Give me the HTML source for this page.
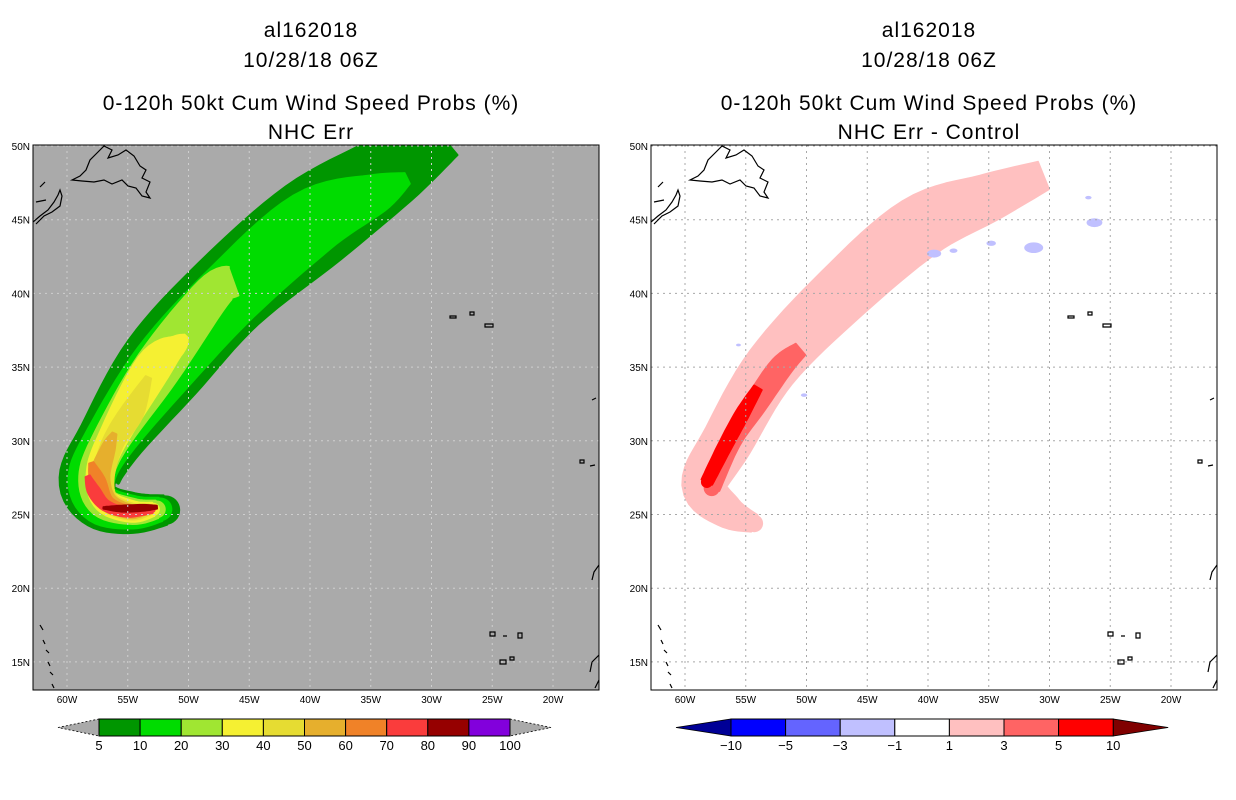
<!DOCTYPE html>
<html><head><meta charset="utf-8"><style>
html,body{margin:0;padding:0;background:#fff;}
svg{display:block;font-family:"Liberation Sans",sans-serif;}
</style></head><body>
<svg id="c" width="1236" height="800" viewBox="0 0 1236 800"></svg>
<script>
// ---------- data ----------
const latTicks = [50,45,40,35,30,25,20,15];
const lonTicks = [60,55,50,45,40,35,30,25,20];
const leftLevels = [5,10,20,30,40,50,60,70,80,90,100];
const leftColors = ["#009600","#00dc00","#a0e632","#f5f032","#e6dc32","#e6af2d","#f08228","#fa3c3c","#960000","#8200dc"];
const rightLevels = [-10,-5,-3,-1,1,3,5,10];
const rightColors = ["#0000ff","#6464ff","#c0c0ff","#ffffff","#ffc0c0","#ff6464","#ff0000"];
// probability swath contours: [lon, lat, halfwidth-deg]
const band5  = [[-51.9,25.3,1.0],[-54.5,25.1,1.35],[-57.2,25.6,1.6],[-58.2,27.3,2.0],[-56.6,29.9,2.15],[-52.2,35,2.9],[-46.7,40,2.9],[-39.7,44.8,3.1],[-33.5,48.3,2.5],[-29.5,51,2.1]];
const band10 = [[-52.3,25.35,0.8],[-54.5,25.15,1.1],[-57.2,25.7,1.35],[-58,27.4,1.55],[-56.6,29.9,1.65],[-52.1,35,2.15],[-46.5,40,2.2],[-39.9,44.8,2.2],[-34.5,46.8,1.3],[-32,47.8,0.4]];
const band20 = [[-52.6,25.35,0.6],[-54.5,25.2,0.85],[-57,25.8,1.0],[-57.6,27.5,1.15],[-56.5,29.9,1.2],[-52.5,35,1.55],[-48,40,1.25],[-46.3,40.8,1.0]];
const band30 = [[-52.9,25.35,0.45],[-54.6,25.2,0.7],[-56.8,25.9,0.8],[-57.3,27.6,0.9],[-56.4,29.9,0.95],[-52.9,35,1.2],[-50.8,36.6,0.6],[-50.2,37.1,0.15]];
const band40 = [[-53.2,25.35,0.35],[-54.7,25.2,0.55],[-56.6,25.9,0.65],[-57,27.6,0.7],[-56.2,29.9,0.7],[-54.6,32,0.75],[-53.3,34.3,0.2]];
const band50 = [[-53.4,25.35,0.3],[-54.8,25.2,0.45],[-56.6,25.9,0.55],[-57.3,27.5,0.65],[-56.6,29.5,0.45],[-56.1,30.5,0.15]];
const band60 = [[-53.5,25.35,0.25],[-54.9,25.2,0.35],[-56.7,25.8,0.45],[-57.5,27.3,0.5],[-58,28.5,0.15]];
const band70 = [[-53,25.35,0.25],[-55,25.15,0.3],[-56.8,25.6,0.35],[-57.8,26.6,0.4],[-58.3,27.6,0.15]];
const band80 = [[-57,25.45,0.05],[-55.5,25.4,0.2],[-53.8,25.45,0.2],[-52.6,25.5,0.1]];
const diff1  = [[-54.3,24.4,0.6],[-56.5,25.2,1.1],[-58.4,27,1.5],[-56.5,30,1.7],[-52.9,35,1.8],[-47.1,40,2.0],[-40.7,44.5,2.1],[-35,46.5,1.6],[-30.5,48,1.0]];
const diff3  = [[-57.8,26.8,0.55],[-56.2,30,0.65],[-54.2,32.5,0.75],[-52.1,35,0.75],[-50.5,36.2,0.5]];
const diff5  = [[-58.2,27.2,0.4],[-56.8,29.5,0.45],[-55.3,31.8,0.45],[-54,33.6,0.3]];
const blueSpots = [[-39.5,42.7,0.45],[-31.3,43.1,0.6],[-26.3,44.8,0.5],[-37.9,42.9,0.25],[-34.8,43.4,0.3],[-50.2,33.1,0.2],[-55.6,36.5,0.15],[-26.8,46.5,0.2]];

// ---------- helpers ----------
const svg = document.getElementById('c');
const NS = "http://www.w3.org/2000/svg";
function mk(tag, attrs, parent){const e=document.createElementNS(NS,tag);for(const k in attrs)e.setAttribute(k,attrs[k]);(parent||svg).appendChild(e);return e;}
const PX = 12.15, PY = 14.74;
function xOf(lon, ox){return ox + 67 + (lon+60)*PX;}
function yOf(lat){return 146 + (50-lat)*PY;}

function smooth(P){
  // Catmull-Rom resampling of the control polyline (rendering only)
  const out=[]; const n=P.length;
  for(let i=0;i<n-1;i++){
    const p0=P[Math.max(0,i-1)],p1=P[i],p2=P[i+1],p3=P[Math.min(n-1,i+2)];
    for(let s=0;s<8;s++){
      const t=s/8,t2=t*t,t3=t2*t;
      const q=[0,1,2].map(k=>0.5*((2*p1[k])+(-p0[k]+p2[k])*t+(2*p0[k]-5*p1[k]+4*p2[k]-p3[k])*t2+(-p0[k]+3*p1[k]-3*p2[k]+p3[k])*t3));
      out.push(q);
    }
  }
  out.push(P[n-1]);
  return out;
}

function drawBand(g, pts, color, ox, name){
  const P = smooth(pts.map(p=>[xOf(p[0],ox), yOf(p[1]), p[2]*PY]));
  const Lf=[], Rt=[];
  for(let i=0;i<P.length;i++){
    const a=P[Math.max(0,i-1)], b=P[Math.min(P.length-1,i+1)];
    let dx=b[0]-a[0], dy=b[1]-a[1]; const n=Math.hypot(dx,dy)||1; dx/=n; dy/=n;
    const nx=-dy, ny=dx, w=Math.max(0,P[i][2]);
    Lf.push([P[i][0]+nx*w, P[i][1]+ny*w]);
    Rt.push([P[i][0]-nx*w, P[i][1]-ny*w]);
  }
  const poly = Lf.concat(Rt.reverse()).map(p=>p[0].toFixed(1)+','+p[1].toFixed(1)).join(' ');
  const e = mk('polygon',{points:poly,fill:color,stroke:color,'stroke-width':2,'stroke-linejoin':'round'},g);
  
  
  const c = mk('circle',{cx:P[0][0],cy:P[0][1],r:P[0][2],fill:color},g);
  
  
}

function panel(ox, bg, gridColor, titleLine, key){
  const cx = ox + 311;
  const t = [["al162018",37],["10/28/18 06Z",67],["0-120h 50kt Cum Wind Speed Probs (%)",110],[titleLine,139]];
  t.forEach((s,i)=>{const e=mk('text',{x:cx,y:s[1],'text-anchor':'middle','font-size':'21',fill:'#000','letter-spacing':'1'});e.textContent=s[0];
    
    });
  const g = mk('g',{});
  
  
  const clipId='clip'+key;
  const cp=mk('clipPath',{id:clipId},svg); mk('rect',{x:ox+33,y:145,width:566,height:545},cp);
  mk('rect',{x:ox+33,y:145,width:566,height:545,fill:bg},g);
  const inner = mk('g',{'clip-path':'url(#'+clipId+')'},g);
  return {g,inner,ox,gridColor,key};
}

function grid(p){
  lonTicks.forEach(l=>{const x=xOf(-l,p.ox);const e=mk('line',{x1:x,y1:145,x2:x,y2:690,stroke:p.gridColor,'stroke-width':1,'stroke-dasharray':'2,4'},p.inner);
    
    const t=mk('text',{x:x,y:703,'text-anchor':'middle','font-size':'10',fill:'#000'});t.textContent=l+'W';
    });
  latTicks.forEach(l=>{const y=yOf(l);const e=mk('line',{x1:p.ox+33,y1:y,x2:p.ox+599,y2:y,stroke:p.gridColor,'stroke-width':1,'stroke-dasharray':'2,4'},p.inner);
    
    const t=mk('text',{x:p.ox+30,y:y+4,'text-anchor':'end','font-size':'10',fill:'#000'});t.textContent=l+'N';
    });
}

function coast(p){
  const o=p.ox;
  const paths=[
   "M72 180 L80 176 L86 170 L90 160 L98 152 L104 146 L112 150 L108 158 L118 155 L126 150 L134 156 L140 166 L146 170 L142 178 L150 182 L146 192 L150 198 L142 196 L136 188 L128 186 L122 180 L112 184 L104 180 L94 182 L82 181 Z",
   "M33 222 L40 216 L48 210 L54 202 L58 195 L60 190 L62 196 L60 206 L52 212 L44 216 L36 224",
   "M40 187 L45 182 M36 202 L46 200",
   "M450 316 l6 0 0 2 -6 0z M470 312 l4 0 0 3 -4 0z M485 324 l8 0 0 3 -8 0z",
   "M592 400 l4 -2 M580 460 l4 0 0 3 -4 0z M590 466 l5 -1",
   "M490 632 l5 0 0 4 -5 0z M503 636 l4 0 M518 633 l4 0 0 5 -4 0z M500 660 l6 0 0 4 -6 0z M510 657 l4 0 0 3 -4 0z",
   "M40 625 l3 5 M43 640 l2 4 M46 650 l3 3 M48 662 l2 4 M50 672 l3 3 M52 684 l2 4",
   "M599 565 L594 572 L592 580 M599 655 L592 662 L590 672 M599 680 L595 688"
  ];
  paths.forEach((d,i)=>{const e=mk('path',{d:d,transform:'translate('+o+',0)',fill:'none',stroke:'#000','stroke-width':1.2},p.inner);
    });
}

// ---------- left panel ----------
const L = panel(0,'#aaaaaa','#cfcfcf','NHC Err','left');
const lb=[band5,band10,band20,band30,band40,band50,band60,band70,band80];
lb.forEach((b,i)=>drawBand(L.inner,b,leftColors[i],0,'prob-'+leftLevels[i]));
grid(L); coast(L);
mk('rect',{x:33,y:145,width:566,height:545,fill:'none',stroke:'#000','stroke-width':1},L.g);

// ---------- right panel ----------
const R = panel(618,'#ffffff','#a8a8a8','NHC Err - Control','right');
drawBand(R.inner,diff1,rightColors[4],618,'diff-1');
drawBand(R.inner,diff3,rightColors[5],618,'diff-3');
drawBand(R.inner,diff5,rightColors[6],618,'diff-5');
blueSpots.forEach((s,i)=>{const e=mk('ellipse',{cx:xOf(s[0],618),cy:yOf(s[1]),rx:s[2]*PX*1.3,ry:s[2]*PY*0.6,fill:rightColors[2]},R.inner);
  });
grid(R); coast(R);
mk('rect',{x:651,y:145,width:566,height:545,fill:'none',stroke:'#000','stroke-width':1},R.g);

// ---------- colorbars ----------
function colorbar(x0, bw, levels, colors, leftTri, rightTri, triW, key){
  const g=mk('g',{});
  
  
  const y=719,h=17;
  mk('polygon',{points:(x0-triW)+','+(y+h/2)+' '+x0+','+y+' '+x0+','+(y+h),fill:leftTri,stroke:'#000','stroke-width':0.8,'stroke-dasharray':leftTri=='#aaaaaa'?'2,2':'none'},g);
  const xe=x0+bw*colors.length;
  mk('polygon',{points:(xe+triW)+','+(y+h/2)+' '+xe+','+y+' '+xe+','+(y+h),fill:rightTri,stroke:'#000','stroke-width':0.8,'stroke-dasharray':rightTri=='#aaaaaa'?'2,2':'none'},g);
  colors.forEach((c,i)=>{const r=mk('rect',{x:x0+i*bw,y:y,width:bw,height:h,fill:c,stroke:'#000','stroke-width':1},g);
    });
  levels.forEach((l,i)=>{const t=mk('text',{x:x0+i*bw,y:y+h+14,'text-anchor':'middle','font-size':'13',fill:'#000'},g);t.textContent=(l<0?'\u2212'+(-l):l);
    });
}
colorbar(99,41.1,leftLevels,leftColors,'#aaaaaa','#aaaaaa',41,'left');
colorbar(731,54.6,rightLevels,rightColors,'#000096','#800000',55,'right');
</script>
</body></html>
